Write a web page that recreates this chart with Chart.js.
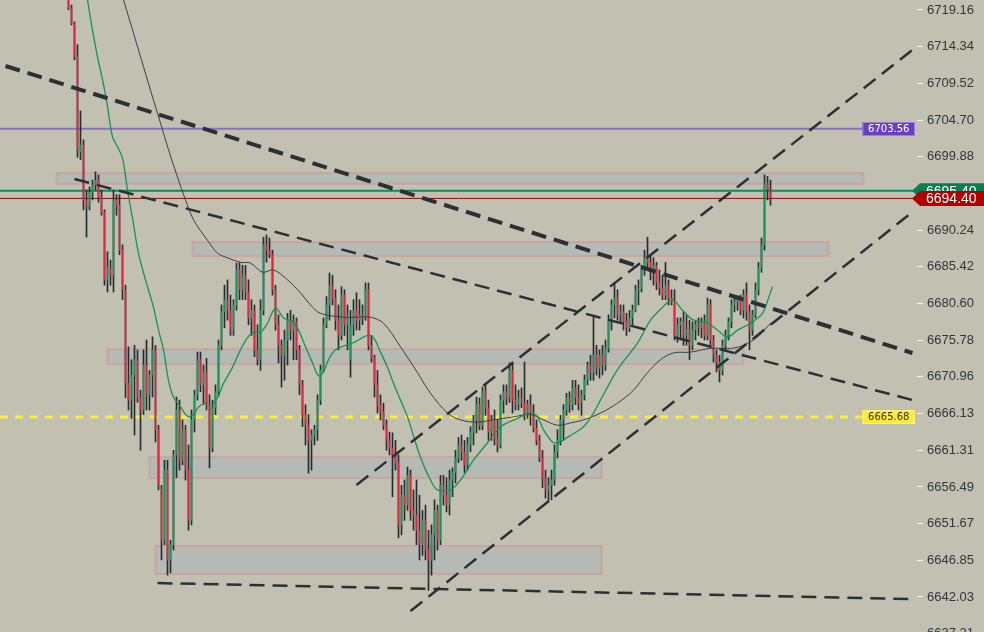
<!DOCTYPE html>
<html lang="en">
<head>
<meta charset="UTF-8">
<title>Price chart</title>
<style>
    html, body { margin: 0; padding: 0; background: #c2c0b1; }
    .wrap { width: 984px; height: 632px; position: relative; }
</style>
</head>
<body>
<div class="wrap"><canvas id="chart"></canvas></div>
<script src="https://cdn.jsdelivr.net/npm/chart.js"></script>
<script>
// candles, one per bar index
const opens = [
    6721.8, 6719.4, 6717.3, 6713.0, 6700.5, 6701.4, 6694.2, 6693.5, 6695.2, 6696.2,
    6696.8, 6694.5, 6692.6, 6683.7, 6685.3, 6684.3, 6694.2, 6693.5, 6687.6, 6682.4,
    6670.1, 6667.9, 6671.2, 6673.2, 6668.2, 6666.6, 6672.5, 6668.6, 6671.2, 6674.5,
    6664.0, 6656.1, 6649.5, 6658.7, 6646.9, 6648.9, 6660.7, 6666.6, 6660.0, 6664.0,
    6658.7, 6652.1, 6665.3, 6668.6, 6673.2, 6669.9, 6671.6, 6667.3, 6661.6, 6666.9,
    6669.0, 6675.1, 6679.5, 6681.1, 6679.7, 6677.1, 6680.4, 6685.0, 6682.4, 6684.3,
    6682.1, 6678.7, 6679.7, 6674.5, 6673.2, 6679.7, 6688.3, 6687.6, 6687.0, 6682.4,
    6677.8, 6675.1, 6673.8, 6675.8, 6678.4, 6677.1, 6678.2, 6674.5, 6669.9, 6666.0,
    6664.6, 6662.6, 6663.3, 6664.0, 6667.9, 6671.8, 6677.8, 6680.4, 6683.0, 6681.3,
    6678.4, 6676.4, 6681.7, 6677.8, 6673.2, 6677.8, 6679.7, 6678.4, 6679.1, 6678.7,
    6682.4, 6675.1, 6673.4, 6669.9, 6667.3, 6666.3, 6664.6, 6662.6, 6661.6, 6660.7,
    6659.7, 6651.5, 6655.4, 6654.1, 6658.0, 6653.4, 6652.8, 6650.8, 6648.9, 6652.1,
    6648.2, 6646.9, 6650.2, 6653.4, 6649.5, 6656.7, 6655.4, 6654.1, 6657.4, 6658.4,
    6660.3, 6662.0, 6661.1, 6659.4, 6662.0, 6663.7, 6665.3, 6667.3, 6664.6, 6669.0,
    6666.9, 6663.7, 6665.3, 6662.9, 6662.0, 6667.9, 6669.0, 6668.2, 6671.8, 6667.9,
    6667.3, 6668.2, 6667.6, 6666.3, 6667.3, 6666.0, 6664.2, 6662.6, 6660.3, 6657.7,
    6656.1, 6656.7, 6657.4, 6661.1, 6662.6, 6665.3, 6666.6, 6668.2, 6667.3, 6669.5,
    6668.2, 6667.6, 6668.6, 6670.5, 6672.5, 6671.6, 6673.8, 6672.1, 6673.8, 6672.5,
    6674.7, 6678.4, 6680.4, 6681.3, 6679.1, 6679.5, 6678.2, 6677.4, 6678.7, 6679.7,
    6682.4, 6682.6, 6685.0, 6686.6, 6686.0, 6684.7, 6685.6, 6683.4, 6682.6, 6681.7,
    6683.0, 6681.3, 6680.8, 6676.4, 6677.8, 6678.2, 6676.4, 6677.1, 6675.1, 6677.1,
    6677.8, 6677.4, 6678.2, 6676.4, 6680.4, 6675.8, 6673.8, 6672.9, 6671.8, 6675.1,
    6676.4, 6678.2, 6680.4, 6680.8, 6681.1, 6679.7, 6681.7, 6679.5, 6677.1, 6679.1,
    6682.4, 6685.3, 6688.3, 6696.4, 6695.5
];
const highs = [
    6722.4, 6719.8, 6717.6, 6714.6, 6705.9, 6702.1, 6695.5, 6695.9, 6696.8, 6697.9,
    6697.5, 6695.5, 6692.9, 6687.4, 6686.3, 6695.5, 6694.9, 6694.9, 6688.3, 6683.0,
    6674.9, 6673.2, 6675.1, 6674.5, 6669.2, 6674.5, 6675.8, 6671.8, 6676.2, 6675.1,
    6664.6, 6656.7, 6660.0, 6660.0, 6649.5, 6661.3, 6668.3, 6667.9, 6665.3, 6664.6,
    6662.0, 6666.6, 6669.2, 6674.2, 6674.2, 6672.5, 6673.4, 6668.6, 6667.9, 6669.9,
    6675.8, 6680.4, 6683.0, 6683.7, 6681.7, 6681.1, 6685.9, 6686.0, 6685.6, 6685.6,
    6683.7, 6681.1, 6680.4, 6677.8, 6681.1, 6689.3, 6689.6, 6689.2, 6687.6, 6683.0,
    6679.1, 6675.8, 6677.1, 6679.3, 6679.7, 6679.1, 6678.7, 6675.1, 6670.5, 6667.3,
    6666.0, 6664.0, 6664.6, 6668.6, 6672.5, 6678.7, 6681.5, 6684.6, 6684.3, 6682.4,
    6680.4, 6682.8, 6682.4, 6680.4, 6679.7, 6681.1, 6682.0, 6681.1, 6680.4, 6683.3,
    6683.3, 6676.4, 6673.8, 6671.8, 6668.6, 6667.5, 6665.3, 6663.7, 6663.6, 6662.6,
    6660.7, 6656.7, 6657.4, 6659.1, 6658.7, 6656.1, 6657.4, 6655.4, 6653.4, 6654.1,
    6650.8, 6651.5, 6654.8, 6654.1, 6658.0, 6658.0, 6657.7, 6658.7, 6659.0, 6661.3,
    6663.0, 6663.3, 6662.6, 6663.0, 6664.4, 6665.9, 6668.3, 6668.2, 6669.6, 6669.9,
    6667.9, 6665.9, 6666.6, 6665.3, 6668.6, 6669.9, 6669.9, 6672.8, 6672.9, 6669.9,
    6669.2, 6669.5, 6672.9, 6667.9, 6668.6, 6667.3, 6665.3, 6663.3, 6661.3, 6658.7,
    6657.7, 6658.7, 6662.0, 6664.0, 6665.9, 6667.3, 6668.8, 6669.0, 6670.5, 6670.5,
    6669.9, 6669.2, 6671.2, 6672.9, 6673.8, 6678.8, 6675.1, 6674.5, 6675.1, 6675.8,
    6679.1, 6681.1, 6683.3, 6682.4, 6680.4, 6680.4, 6679.3, 6679.7, 6680.4, 6683.0,
    6683.7, 6685.6, 6687.6, 6689.3, 6687.0, 6686.6, 6686.0, 6685.0, 6684.3, 6686.0,
    6683.7, 6682.4, 6682.4, 6678.7, 6678.7, 6679.5, 6679.1, 6678.4, 6678.2, 6678.4,
    6678.7, 6678.7, 6679.1, 6681.3, 6681.1, 6676.4, 6674.5, 6673.8, 6675.8, 6677.1,
    6678.7, 6681.1, 6681.5, 6681.6, 6681.7, 6682.4, 6683.3, 6680.4, 6679.7, 6683.3,
    6686.0, 6689.2, 6697.5, 6697.3, 6696.8
];
const lows = [
    6719.2, 6717.2, 6712.6, 6699.8, 6699.5, 6692.9, 6689.3, 6692.9, 6694.2, 6695.5,
    6693.9, 6692.2, 6683.0, 6682.1, 6683.0, 6682.1, 6692.2, 6687.0, 6681.1, 6668.2,
    6666.6, 6665.5, 6663.3, 6667.6, 6661.3, 6666.0, 6666.6, 6666.6, 6668.3, 6662.4,
    6656.1, 6646.9, 6648.9, 6644.9, 6645.2, 6648.2, 6657.7, 6658.7, 6659.4, 6657.4,
    6650.8, 6651.5, 6663.7, 6667.9, 6669.0, 6667.3, 6666.6, 6659.0, 6661.1, 6666.0,
    6668.4, 6674.5, 6677.4, 6678.4, 6676.4, 6676.4, 6679.7, 6681.1, 6681.1, 6681.1,
    6677.8, 6676.4, 6673.6, 6672.5, 6671.8, 6679.1, 6686.0, 6686.6, 6681.7, 6677.1,
    6672.8, 6669.6, 6670.5, 6672.5, 6675.8, 6673.2, 6673.2, 6668.6, 6664.4, 6662.0,
    6658.3, 6658.7, 6662.0, 6662.6, 6667.3, 6671.6, 6677.4, 6678.4, 6680.4, 6677.1,
    6674.5, 6675.8, 6676.4, 6674.5, 6670.9, 6676.4, 6677.1, 6677.1, 6677.8, 6678.4,
    6674.5, 6672.9, 6668.3, 6666.2, 6665.3, 6664.0, 6661.3, 6660.7, 6655.2, 6658.7,
    6649.8, 6650.2, 6652.1, 6653.4, 6652.1, 6650.8, 6648.9, 6646.9, 6647.5, 6646.9,
    6642.9, 6644.9, 6646.9, 6648.2, 6648.9, 6654.1, 6653.2, 6652.8, 6655.2, 6657.0,
    6659.7, 6660.0, 6658.4, 6658.7, 6661.1, 6662.0, 6663.6, 6664.0, 6664.0, 6665.9,
    6662.6, 6662.6, 6662.0, 6661.1, 6661.6, 6666.2, 6667.3, 6667.6, 6666.2, 6666.6,
    6666.6, 6666.9, 6665.3, 6665.5, 6664.6, 6663.7, 6662.0, 6659.8, 6656.4, 6655.0,
    6654.5, 6654.8, 6656.7, 6660.3, 6662.0, 6662.6, 6665.9, 6666.3, 6666.6, 6667.3,
    6666.6, 6665.9, 6667.9, 6669.9, 6670.5, 6670.5, 6671.2, 6670.8, 6671.2, 6671.8,
    6674.2, 6677.1, 6678.7, 6678.4, 6678.2, 6677.1, 6676.4, 6676.9, 6677.8, 6679.5,
    6680.4, 6682.1, 6684.3, 6685.3, 6683.7, 6683.0, 6682.4, 6681.7, 6681.1, 6681.1,
    6680.4, 6680.4, 6675.8, 6675.5, 6675.8, 6675.1, 6675.1, 6673.2, 6674.5, 6675.8,
    6676.4, 6676.1, 6675.8, 6675.8, 6675.1, 6672.9, 6671.6, 6670.3, 6671.2, 6674.5,
    6675.8, 6677.4, 6679.5, 6679.7, 6679.1, 6678.7, 6678.4, 6674.5, 6676.4, 6678.7,
    6681.7, 6684.7, 6687.6, 6694.2, 6693.5
];
const closes = [
    6719.4, 6717.4, 6713.0, 6700.8, 6701.4, 6694.2, 6693.5, 6695.2, 6696.2, 6696.8,
    6694.5, 6692.6, 6683.7, 6685.3, 6684.3, 6694.2, 6693.5, 6687.6, 6682.4, 6670.1,
    6667.9, 6671.2, 6673.2, 6668.2, 6666.6, 6672.5, 6668.6, 6671.2, 6674.5, 6664.0,
    6656.7, 6649.5, 6658.7, 6646.9, 6648.9, 6660.7, 6666.6, 6660.0, 6664.0, 6658.7,
    6652.1, 6665.3, 6668.6, 6673.2, 6669.9, 6671.6, 6667.3, 6661.6, 6666.9, 6669.0,
    6675.1, 6679.5, 6681.1, 6679.7, 6677.1, 6680.4, 6685.0, 6682.4, 6684.3, 6682.1,
    6678.7, 6679.7, 6674.5, 6673.2, 6679.7, 6688.3, 6687.6, 6687.0, 6682.4, 6677.8,
    6675.1, 6673.8, 6675.8, 6678.4, 6677.1, 6678.2, 6674.5, 6669.9, 6666.0, 6664.6,
    6662.6, 6663.3, 6664.0, 6667.9, 6671.8, 6677.8, 6680.4, 6683.0, 6681.3, 6678.4,
    6676.4, 6681.7, 6677.8, 6679.1, 6677.8, 6679.7, 6678.4, 6679.1, 6678.7, 6682.4,
    6675.1, 6673.4, 6669.9, 6667.3, 6666.3, 6664.6, 6662.6, 6661.6, 6660.7, 6659.7,
    6651.5, 6655.4, 6654.1, 6658.0, 6653.4, 6652.8, 6650.8, 6648.9, 6652.1, 6648.2,
    6646.9, 6650.2, 6653.4, 6649.5, 6656.7, 6655.4, 6654.1, 6657.4, 6658.4, 6660.3,
    6662.0, 6661.1, 6659.4, 6662.0, 6663.7, 6665.3, 6667.3, 6664.6, 6669.0, 6666.9,
    6663.7, 6665.3, 6662.9, 6662.0, 6667.9, 6669.0, 6668.2, 6671.8, 6667.9, 6667.3,
    6668.2, 6667.6, 6666.3, 6667.3, 6666.0, 6664.2, 6662.6, 6660.3, 6657.7, 6656.1,
    6656.7, 6657.4, 6661.1, 6662.6, 6665.3, 6666.6, 6668.2, 6667.3, 6669.5, 6668.2,
    6667.6, 6668.6, 6670.5, 6672.5, 6671.6, 6673.8, 6672.1, 6673.8, 6672.5, 6674.7,
    6678.4, 6680.4, 6681.3, 6679.1, 6679.5, 6678.2, 6677.4, 6678.7, 6679.7, 6682.4,
    6682.6, 6685.0, 6686.6, 6686.0, 6684.7, 6685.6, 6683.4, 6682.6, 6681.7, 6683.0,
    6681.3, 6680.8, 6676.4, 6677.8, 6678.2, 6676.4, 6677.1, 6675.1, 6677.1, 6677.8,
    6677.4, 6678.2, 6676.4, 6680.4, 6675.8, 6673.8, 6672.9, 6671.8, 6675.1, 6676.4,
    6678.2, 6680.4, 6680.8, 6681.1, 6679.7, 6681.7, 6679.5, 6677.1, 6679.1, 6682.4,
    6685.3, 6688.3, 6696.4, 6695.5, 6694.4
];

// fast (green) and slow (grey) averages at bar index
const fastMaBar = [6.33, 8, 9.67, 11.33, 12.67, 14.67, 16.33, 18, 19.67, 21.33, 23.33, 25.67, 28.33, 30, 31.67, 33.33, 35, 37.33, 39.67, 41.67, 43.33, 45.67, 48, 49.67, 51.67, 54.67, 57.33, 59.67, 61.67, 64, 66.33, 69, 71.67, 74.67, 76.67, 79, 81.33, 83.33, 85, 86.67, 89, 92.33, 94.67, 96.67, 99.67, 101.67, 104, 106.33, 108.33, 110.67, 113, 114.67, 117.33, 120.67, 123, 127.33, 130.67, 135, 139.67, 144, 149.67, 154, 156.33, 158.33, 161.33, 163.33, 166.67, 171.67, 175, 177.33, 183, 189.67, 194, 198, 201.33, 204.67, 208.33, 213, 216.33, 219.67, 223, 227.33, 231.33, 233.33, 234.67];
const fastMa = [6720.5, 6716.5, 6713.0, 6710.0, 6707.3, 6702.5, 6701.2, 6699.7, 6695.5, 6691.8, 6687.2, 6683.7, 6680.1, 6677.1, 6674.5, 6670.5, 6668.3, 6667.0, 6665.8, 6666.0, 6667.0, 6667.5, 6667.4, 6668.2, 6670.1, 6672.2, 6674.5, 6676.1, 6676.8, 6676.8, 6678.0, 6680.0, 6678.7, 6678.2, 6677.1, 6674.9, 6672.8, 6671.1, 6671.6, 6673.2, 6674.5, 6675.1, 6675.4, 6675.8, 6676.4, 6676.1, 6674.2, 6672.2, 6670.1, 6667.9, 6665.7, 6663.6, 6660.4, 6657.4, 6656.1, 6656.1, 6657.4, 6660.0, 6662.3, 6664.4, 6665.5, 6666.2, 6665.7, 6664.0, 6662.4, 6662.3, 6663.1, 6664.4, 6666.2, 6667.9, 6671.9, 6675.4, 6678.4, 6680.1, 6681.1, 6679.7, 6678.4, 6678.0, 6677.1, 6676.2, 6677.1, 6678.0, 6679.3, 6681.3, 6682.8];
const slowMaBar = [18.33, 21.67, 25, 28.33, 30.67, 33.33, 36.33, 39, 41.67, 46.33, 49.67, 53, 57.33, 60.67, 64.67, 68.33, 73, 77.33, 80.67, 84, 91.67, 96.33, 100.67, 105, 110.67, 116.33, 120.67, 126.33, 130.67, 136.33, 141.67, 148.33, 154, 158.33, 163, 167.33, 171.67, 177.33, 183, 188.33, 193, 197.33, 201.67, 207.33, 214, 220.67, 225, 229.67, 234];
const slowMa = [6720.5, 6716.1, 6711.7, 6707.3, 6704.3, 6700.8, 6697.2, 6694.2, 6691.6, 6688.9, 6687.2, 6686.6, 6686.0, 6685.9, 6684.7, 6685.0, 6683.7, 6682.0, 6680.4, 6679.3, 6678.8, 6678.8, 6678.8, 6678.0, 6674.9, 6671.5, 6668.8, 6666.2, 6665.3, 6665.0, 6665.3, 6665.7, 6666.0, 6665.3, 6664.6, 6664.9, 6665.3, 6666.2, 6667.5, 6669.2, 6671.5, 6673.2, 6674.1, 6674.2, 6674.7, 6674.7, 6675.1, 6676.2, 6678.0];

// dashed trend lines: [bar, price] at each end
const trendStart = [[-21, 6711.80], [2, 6696.95], [96, 6656.74], [114, 6640.18], [29.67, 6643.86]];
const trendEnd = [[281.33, 6674.09], [281.33, 6667.91], [281.33, 6713.90], [281.33, 6692.62], [281.33, 6641.76]];

// grey zones
const zoneFrom = [-4, 41.33, 13, 27, 29];
const zoneTo = [265, 253.33, 225, 177.67, 177.67];
const zoneTop = [6697.74, 6688.67, 6674.61, 6660.42, 6648.73];
const zoneBottom = [6696.30, 6686.83, 6672.64, 6657.66, 6645.05];

// horizontal levels
const purpleLevel = 6703.56;
const yellowLevel = 6665.68;
const greenLevel = 6695.40;
const lastPrice = 6694.40;
const levelEndBar = 264.67;

const yTicks = [6719.16, 6714.34, 6709.52, 6704.70, 6699.88, 6695.06, 6690.24, 6685.42, 6680.60, 6675.78, 6670.96, 6666.13, 6661.31, 6656.49, 6651.67, 6646.85, 6642.03, 6637.21];

const X_MIN = -22.8333, X_MAX = 282.8333;
const Y_MIN = 6637.43, Y_MAX = 6720.47;

const UP = '#17995c', DOWN = '#e5263d', WICK = '#262c32';
const TREND = '#2a3035';

const bars = closes.map((_, i) => i);
const seg = (a, b) => [{ x: a[0], y: a[1] }, { x: b[0], y: b[1] }];
const flat = (v, to) => [{ x: X_MIN, y: v }, { x: to, y: v }];

const datasets = [];
trendStart.forEach((s, k) => {
    datasets.push({
        type: 'line', data: seg(s, trendEnd[k]),
        borderColor: TREND, borderWidth: k === 0 ? 4 : 2.5, borderDash: [15, 8],
        pointRadius: 0, order: 0
    });
});
datasets.push({
    type: 'line', data: fastMaBar.map((b, k) => ({ x: b, y: fastMa[k] })),
    borderColor: '#14935a', borderWidth: 1.3, pointRadius: 0, tension: 0.35, order: 1
});
datasets.push({
    type: 'line', data: slowMaBar.map((b, k) => ({ x: b, y: slowMa[k] })),
    borderColor: '#3b3f42', borderWidth: 1, pointRadius: 0, tension: 0.35, order: 1
});
datasets.push({
    type: 'bar', data: bars.map(i => ({ x: i, y: [opens[i], closes[i]] })),
    backgroundColor: bars.map(i => closes[i] > opens[i] ? UP : (closes[i] < opens[i] ? DOWN : WICK)),
    barThickness: 1, grouped: false, order: 2
});
datasets.push({
    type: 'bar', data: bars.map(i => ({ x: i, y: [lows[i], highs[i]] })),
    backgroundColor: WICK, barThickness: 1, grouped: false, order: 3
});
datasets.push({ type: 'line', data: flat(purpleLevel, levelEndBar), borderColor: '#8a6fc4', borderWidth: 2, pointRadius: 0, order: 4 });
datasets.push({ type: 'line', data: flat(yellowLevel, levelEndBar), borderColor: '#ffeb3b', borderWidth: 3, borderDash: [8, 7], pointRadius: 0, order: 4 });
datasets.push({ type: 'line', data: flat(greenLevel, X_MAX), borderColor: '#0e8a5c', borderWidth: 2, pointRadius: 0, order: 4 });
datasets.push({ type: 'line', data: flat(lastPrice, X_MAX), borderColor: '#8b0a0a', borderWidth: 1, pointRadius: 0, order: 4 });

const background = {
    id: 'background',
    beforeDraw(chart) {
        const ctx = chart.ctx;
        ctx.save();
        ctx.fillStyle = '#c2c0b1';
        ctx.fillRect(0, 0, chart.width, chart.height);
        ctx.restore();
    }
};

const zones = {
    id: 'zones',
    beforeDatasetsDraw(chart) {
        const { ctx, scales: { x, y } } = chart;
        ctx.save();
        zoneFrom.forEach((from, k) => {
            const l = x.getPixelForValue(from), r = x.getPixelForValue(zoneTo[k]);
            const t = y.getPixelForValue(zoneTop[k]), b = y.getPixelForValue(zoneBottom[k]);
            ctx.fillStyle = 'rgba(172,182,182,0.6)';
            ctx.fillRect(l, t, r - l, b - t);
            ctx.strokeStyle = 'rgba(214,148,138,0.55)';
            ctx.lineWidth = 2;
            ctx.strokeRect(l, t, r - l, b - t);
        });
        ctx.restore();
    }
};

const tags = {
    id: 'tags',
    afterDraw(chart) {
        const { ctx, chartArea, scales: { x, y } } = chart;
        ctx.save();
        // level boxes at the right edge of the plot
        const box = (v, fill, edge, text) => {
            const l = x.getPixelForValue(levelEndBar), r = chartArea.right - 2;
            const cy = Math.round(y.getPixelForValue(v));
            ctx.fillStyle = fill;
            ctx.fillRect(l, cy - 7, r - l, 14);
            ctx.strokeStyle = edge;
            ctx.lineWidth = 1;
            ctx.strokeRect(l + 0.5, cy - 6.5, r - l - 1, 13);
            ctx.fillStyle = text;
            ctx.font = '10px "DejaVu Sans"';
            ctx.textAlign = 'center';
            ctx.textBaseline = 'middle';
            ctx.fillText(v.toFixed(2), (l + r) / 2, cy + 0.5);
        };
        box(purpleLevel, '#6a3fc0', '#9a80d6', '#ffffff');
        box(yellowLevel, '#ffeb3b', '#fff176', '#333333');
        // price tags on the axis
        const tag = (v, fill) => {
            const cy = y.getPixelForValue(v);
            const tip = chartArea.right - 5;
            ctx.fillStyle = fill;
            ctx.beginPath();
            ctx.moveTo(tip, cy);
            ctx.lineTo(tip + 8, cy - 7.5);
            ctx.lineTo(chart.width, cy - 7.5);
            ctx.lineTo(chart.width, cy + 7.5);
            ctx.lineTo(tip + 8, cy + 7.5);
            ctx.closePath();
            ctx.fill();
            ctx.fillStyle = '#ffffff';
            ctx.font = '14px "Liberation Sans"';
            ctx.textAlign = 'left';
            ctx.textBaseline = 'middle';
            ctx.fillText(v.toFixed(2), tip + 14, cy + 1);
        };
        tag(greenLevel, '#0b7d55');
        tag(lastPrice, '#b10000');
        ctx.restore();
    }
};

new Chart(document.getElementById('chart'), {
    type: 'bar',
    data: { datasets },
    options: {
        responsive: true,
        maintainAspectRatio: false,
        animation: false,
        events: [],
        layout: { padding: 0 },
        plugins: { legend: { display: false }, tooltip: { enabled: false } },
        scales: {
            x: {
                type: 'linear', display: false, min: X_MIN, max: X_MAX, offset: false
            },
            y: {
                type: 'linear', position: 'right', min: Y_MIN, max: Y_MAX,
                afterBuildTicks: s => { s.ticks = yTicks.map(v => ({ value: v })); },
                afterFit: s => { s.width = 67; s.paddingTop = 0; s.paddingBottom = 0; },
                grid: { drawOnChartArea: false, drawTicks: true, tickLength: 6, color: '#f4f4f0' },
                border: { display: false },
                ticks: {
                    padding: 4, color: '#30363b',
                    font: { family: 'Liberation Sans', size: 13 },
                    callback: v => Number(v).toFixed(2)
                }
            }
        }
    },
    plugins: [background, zones, tags]
});
</script>
</body>
</html>
